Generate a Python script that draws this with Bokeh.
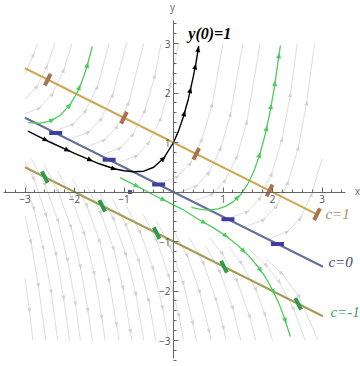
import math
import numpy as np
from bokeh.plotting import figure
from bokeh.models import LinearAxis, FixedTicker
from bokeh.embed import file_html
from bokeh.resources import INLINE
from bokeh.core.properties import value

# ---------------- data ----------------
x_ticks = [-3, -2, -1, 1, 2, 3]
y_ticks = [-3, -2, -1, 1, 2, 3]
tick_text = {-3: "\u22123", -2: "\u22122", -1: "\u22121", 1: "1", 2: "2", 3: "3"}

# isoclines (end points)
iso_names = ["c=1", "c=0", "c=-1"]
iso_x0 = [-3.0, -3.0, -3.0]
iso_y0 = [2.5, 1.5, 0.5]
iso_x1 = [2.92, 3.02, 3.02]
iso_y1 = [-0.46, -1.51, -2.51]
iso_slope = [2.0, 0.0, -2.0]          # slope shown by the short marks on each isocline

# short slope marks on the isoclines
mark_c1_x = [-2.54, -1.0, 0.46, 1.94, 2.9]
mark_c1_y = [2.27, 1.5, 0.77, 0.03, -0.45]
mark_c0_x = [-2.38, -1.3, -0.3, 1.1, 2.1]
mark_c0_y = [1.19, 0.65, 0.15, -0.55, -1.05]
mark_cm1_x = [-2.6, -1.44, -0.34, 1.02, 2.52]
mark_cm1_y = [0.3, -0.28, -0.83, -1.51, -2.26]

# solution through y(0)=1
black_x = [-2.94, -2.5, -2.0, -1.5, -1.2, -1.0, -0.8, -0.6, -0.4, -0.2, 0.0, 0.1, 0.2, 0.3, 0.4, 0.46, 0.51]
black_y = [1.23, 1.01, 0.78, 0.57, 0.47, 0.43, 0.41, 0.42, 0.5, 0.68, 1.0, 1.23, 1.52, 1.88, 2.33, 2.64, 2.95]
black_arrow_x = [-2.58, -2.14, -1.68, -1.2, -0.2, 0.22, 0.34, 0.44, 0.5]

# green solution curves
g1_x = [-2.94, -2.7, -2.5, -2.3, -2.1, -1.95, -1.85, -1.75, -1.64]
g1_y = [1.40, 1.39, 1.43, 1.54, 1.75, 2.0, 2.23, 2.53, 2.94]
g1_arrow_x = [-2.45, -2.1, -1.9, -1.74]

g2_x = [0.36, 0.5, 0.62, 0.75, 0.9, 1.05, 1.2, 1.36, 1.5, 1.62, 1.74, 1.85, 1.95, 2.04, 2.12, 2.16]
g2_y = [-0.31, -0.34, -0.36, -0.36, -0.34, -0.29, -0.2, -0.05, 0.16, 0.41, 0.75, 1.15, 1.62, 2.13, 2.69, 2.96]
g2_arrow_x = [1.3, 1.74, 1.88, 1.97, 2.05, 2.13]

g3_x = [-1.08, -0.74, -0.4, -0.1, 0.2, 0.5, 0.8, 1.05, 1.3, 1.5, 1.7, 1.85, 2.0, 2.12, 2.24, 2.36]
g3_y = [0.29, 0.12, -0.06, -0.21, -0.36, -0.55, -0.72, -0.88, -1.08, -1.27, -1.5, -1.71, -1.98, -2.23, -2.54, -2.92]
g3_arrow_x = [-0.74, -0.2, 0.62, 1.06, 1.42, 1.76, 2.02, 2.26]

# faint background stream lines (upper family: rising to the right)
up_lines = [
    ([-3, -2.83, -2.75], [2.39, 2.77, 3.0]),
    ([-3, -2.76, -2.56, -2.4], [1.87, 2.13, 2.53, 3.0]),
    ([-3, -2.71, -2.45, -2.22, -2.05], [1.58, 1.70, 1.98, 2.46, 3.0]),
    ([-2.38, -2.03, -1.78, -1.54, -1.3], [1.24, 1.37, 1.64, 2.12, 3.0]),
    ([-2.06, -1.72, -1.46, -1.23, -0.95], [1.08, 1.21, 1.48, 1.96, 3.0]),
    ([-1.74, -1.40, -1.14, -0.91, -0.6], [0.92, 1.05, 1.32, 1.80, 3.0]),
    ([-1.42, -1.08, -0.82, -0.58, -0.38, -0.25], [0.76, 0.89, 1.16, 1.64, 2.34, 3.0]),
    ([-1.10, -0.75, -0.50, -0.26, -0.06, 0.1], [0.60, 0.73, 1.0, 1.48, 2.18, 3.0]),
    ([-0.26, 0.08, 0.34, 0.57, 0.78, 1.0], [0.18, 0.31, 0.58, 1.06, 1.76, 3.0]),
    ([0.11, 0.46, 0.71, 0.95, 1.15, 1.4], [-0.01, 0.12, 0.39, 0.88, 1.57, 3.0]),
    ([0.44, 0.79, 1.04, 1.28, 1.48, 1.75], [-0.17, -0.04, 0.23, 0.71, 1.41, 3.0]),
    ([1.15, 1.49, 1.75, 1.98, 2.19, 2.36, 2.5], [-0.52, -0.40, -0.12, 0.36, 1.06, 1.97, 3.0]),
    ([1.48, 1.82, 2.08, 2.31, 2.52, 2.69, 2.85], [-0.69, -0.56, -0.29, 0.19, 0.89, 1.80, 3.0]),
    ([1.96, 2.30, 2.56, 2.79, 3.0], [-0.93, -0.80, -0.53, -0.05, 0.67]),
]
# lower family: falling to the right
down_lines = [
    ([-3, -2.91, -2.84], [-1.75, -2.40, -3.0]),
    ([-3, -2.88, -2.73, -2.58], [-0.49, -1.01, -1.89, -3.0]),
    ([-3, -2.82, -2.63, -2.47, -2.34], [0.20, -0.34, -1.14, -2.02, -3.0]),
    ([-3, -2.82, -2.57, -2.37, -2.22, -2.1], [0.62, 0.26, -0.47, -1.27, -2.14, -3.0]),
    ([-2.88, -2.59, -2.33, -2.14, -1.98, -1.88], [0.69, 0.14, -0.59, -1.38, -2.26, -3.0]),
    ([-2.62, -2.33, -2.07, -1.88, -1.73, -1.64], [0.56, 0.01, -0.71, -1.51, -2.39, -3.0]),
    ([-2.34, -2.05, -1.80, -1.60, -1.45, -1.38], [0.42, -0.13, -0.85, -1.65, -2.53, -3.0]),
    ([-2.04, -1.75, -1.49, -1.30, -1.15, -1.1], [0.27, -0.28, -1.0, -1.80, -2.68, -3.0]),
    ([-1.76, -1.47, -1.21, -1.02, -0.87, -0.84], [0.13, -0.42, -1.15, -1.94, -2.82, -3.0]),
    ([-1.50, -1.21, -0.96, -0.76, -0.6], [0.0, -0.55, -1.27, -2.07, -3.0]),
    ([-1.24, -0.95, -0.70, -0.50, -0.36], [-0.13, -0.68, -1.40, -2.20, -3.0]),
    ([-0.96, -0.67, -0.41, -0.22, -0.1], [-0.27, -0.82, -1.55, -2.34, -3.0]),
    ([-0.63, -0.34, -0.09, 0.11, 0.2], [-0.43, -0.98, -1.71, -2.50, -3.0]),
    ([-0.35, -0.06, 0.20, 0.39, 0.46], [-0.58, -1.12, -1.85, -2.65, -3.0]),
    ([-0.02, 0.28, 0.53, 0.72, 0.76], [-0.74, -1.29, -2.02, -2.81, -3.0]),
    ([0.31, 0.61, 0.86, 1.01, 1.06], [-0.91, -1.45, -2.18, -2.75, -3.0]),
    ([0.65, 0.94, 1.20, 1.36], [-1.08, -1.62, -2.35, -3.0]),
    ([0.73, 0.99, 1.28, 1.54, 1.66], [-0.92, -1.25, -1.79, -2.52, -3.0]),
    ([1.12, 1.37, 1.67, 1.85, 2.0], [-1.11, -1.44, -1.98, -2.48, -3.0]),
    ([1.54, 1.88, 2.14, 2.43, 2.66], [-1.17, -1.49, -1.82, -2.37, -3.0]),
    ([1.84, 2.19, 2.54, 2.92], [-1.32, -1.65, -2.12, -3.0]),
]

# ---------------- figure ----------------
W, H = 360, 366
SX = SY = 49.5                     # pixels per unit
X0_PX, Y0_PX = 173.0, 191.5        # pixel position of the origin
XR = (-X0_PX / SX, (W - X0_PX) / SX)
YR = (-(H - Y0_PX) / SY, Y0_PX / SY)

p = figure(width=W, height=H, x_range=XR, y_range=YR, output_backend="svg",
           toolbar_location=None, x_axis_type=None, y_axis_type=None, min_border=0)
p.outline_line_color = None
p.background_fill_color = "white"
p.border_fill_color = "white"


def unit_screen(dx, dy):
    sx, sy = dx * SX, dy * SY
    n = math.hypot(sx, sy)
    return sx / n, sy / n


def tri(px, py, ux, uy, length, half_w):
    tx, ty = px + ux * length / 2, py + uy * length / 2
    bx, by = px - ux * length / 2, py - uy * length / 2
    nx, ny = -uy, ux
    xs = [tx / SX, (bx + nx * half_w) / SX, (bx - nx * half_w) / SX]
    ys = [ty / SY, (by + ny * half_w) / SY, (by - ny * half_w) / SY]
    return xs, ys


def arrow_patches(pts_x, pts_y, dirs, length, half_w):
    XS, YS = [], []
    for (x, y, (ux, uy)) in zip(pts_x, pts_y, dirs):
        xs, ys = tri(x * SX, y * SY, ux, uy, length, half_w)
        XS.append(xs)
        YS.append(ys)
    return XS, YS


def arrows_on(xs, ys, ax_list):
    ax, ay, d = [], [], []
    for a in ax_list:
        i = int(np.searchsorted(xs, a))
        i = min(max(i, 1), len(xs) - 1)
        ax.append(a)
        ay.append(float(np.interp(a, xs, ys)))
        d.append(unit_screen(xs[i] - xs[i - 1], ys[i] - ys[i - 1]))
    return ax, ay, d


# background streams
bg_col = "#dedede"
for xs, ys in up_lines + down_lines:
    p.line(xs, ys, line_color=bg_col, line_width=1)
bax, bay, bd = [], [], []
for xs, ys in up_lines + down_lines:
    for i in range(1, len(xs) - 1):
        bax.append(xs[i]); bay.append(ys[i])
        bd.append(unit_screen(xs[i + 1] - xs[i - 1], ys[i + 1] - ys[i - 1]))
PX, PY = arrow_patches(bax, bay, bd, 5, 2)
p.patches(PX, PY, fill_color="#d2d2d2", line_color=None)

# isoclines
iso_cols = ["#cfa653", "#63709c", "#a39c57"]
for k in range(3):
    p.line([iso_x0[k], iso_x1[k]], [iso_y0[k], iso_y1[k]], line_color=iso_cols[k], line_width=2)

# green curves
gcol = "#4ccc5c"
for xs, ys, axl in [(g1_x, g1_y, g1_arrow_x), (g2_x, g2_y, g2_arrow_x), (g3_x, g3_y, g3_arrow_x)]:
    p.line(xs, ys, line_color=gcol, line_width=1.3)
    ax, ay, d = arrows_on(xs, ys, axl)
    PX, PY = arrow_patches(ax, ay, d, 6, 2.5)
    p.patches(PX, PY, fill_color=gcol, line_color=None)

# black solution curve
p.line(black_x, black_y, line_color="black", line_width=1.4)
ax, ay, d = arrows_on(black_x, black_y, black_arrow_x)
PX, PY = arrow_patches(ax, ay, d, 6, 2.5)
p.patches(PX, PY, fill_color="black", line_color=None)

# slope marks
mark_cols = ["#a8744f", "#3c3fa0", "#2f9a4c"]
for k, (mx, my) in enumerate([(mark_c1_x, mark_c1_y), (mark_c0_x, mark_c0_y), (mark_cm1_x, mark_cm1_y)]):
    ux, uy = unit_screen(1.0, iso_slope[k])
    hl = 6.5
    x0 = [x - ux * hl / SX for x in mx]
    x1 = [x + ux * hl / SX for x in mx]
    y0 = [y - uy * hl / SY for y in my]
    y1 = [y + uy * hl / SY for y in my]
    p.segment(x0, y0, x1, y1, line_color=mark_cols[k], line_width=4, line_cap="butt")

# small marker on x axis near -0.88
p.scatter([-0.88], [0.0], marker="square", size=4, fill_color="#4a4a8c", line_color=None)

# axes through the origin
x_minor = [round(-3.4 + 0.2 * i, 2) for i in range(35)]
y_minor = [round(-3.4 + 0.2 * i, 2) for i in range(35)]
xaxis = LinearAxis(fixed_location=0, bounds=(-3.43, 3.47),
                   ticker=FixedTicker(ticks=x_ticks, minor_ticks=x_minor),
                   major_label_overrides=tick_text)
yaxis = LinearAxis(fixed_location=0, bounds=(-3.36, 3.46),
                   ticker=FixedTicker(ticks=y_ticks, minor_ticks=y_minor),
                   major_label_overrides=tick_text)
for axis in (xaxis, yaxis):
    axis.axis_line_color = "#666666"
    axis.major_tick_line_color = "#666666"
    axis.minor_tick_line_color = "#666666"
    axis.major_tick_in = 5
    axis.major_tick_out = 0
    axis.minor_tick_in = 3
    axis.minor_tick_out = 0
    axis.major_label_text_font = "Open Sans"
    axis.major_label_text_font_size = "10px"
    axis.major_label_text_color = "#555555"
    axis.major_label_standoff = 3
p.add_layout(xaxis, "below")
p.add_layout(yaxis, "left")

# axis names
p.text([3.72], [0.03], text=["x"], text_font=value("Open Sans"), text_font_size="10px",
       text_color="#666666", text_baseline="middle", text_align="center")
p.text([-0.02], [3.73], text=["y"], text_font=value("Open Sans"), text_font_size="10px",
       text_color="#666666", text_baseline="middle", text_align="center")

# labels
p.text([0.3], [3.2], text=["y(0)=1"], text_font=value("Liberation Serif"),
       text_font_style="bold italic", text_font_size="16px", text_color="black",
       text_baseline="middle", text_align="left")
lab_cols = ["#a98d6f", "#3f4472", "#3e9e69"]
lab_x = [3.07, 3.13, 3.17]
lab_y = [-0.45, -1.42, -2.43]
for k in range(3):
    p.text([lab_x[k]], [lab_y[k]], text=[iso_names[k]], text_font=value("Liberation Serif"),
           text_font_style="italic", text_font_size="15px", text_color=lab_cols[k],
           text_baseline="middle", text_align="left")

open("out.html", "w").write(file_html(p, INLINE))
